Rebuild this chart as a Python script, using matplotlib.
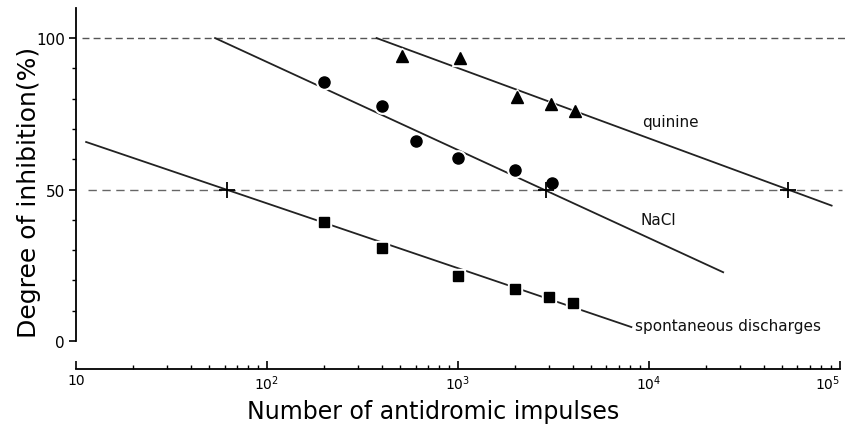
import numpy as np
import matplotlib
matplotlib.use("Agg")
import matplotlib.pyplot as plt

# ---- data ----
spont_x = [200, 400, 1000, 2000, 3000, 4000]
spont_y = [39.4, 30.6, 21.6, 17.2, 14.4, 12.4]
nacl_x = [200, 400, 600, 1000, 2000, 3100]
nacl_y = [85.6, 77.5, 65.9, 60.4, 56.3, 52.1]
quin_x = [510, 1020, 2040, 3090, 4080]
quin_y = [94.2, 93.4, 80.6, 78.2, 76.0]

# fitted regression lines (endpoints)
spont_line_x = [11.3, 8100]
spont_line_y = [65.7, 4.6]
nacl_line_x = [53.5, 24500]
nacl_line_y = [100, 22.7]
quin_line_x = [375, 90600]
quin_line_y = [100, 44.7]

# 50 % crossing points
cross_x = [61.5, 2900, 53600]
cross_y = [50, 50, 50]

ref_levels = [100, 50]
xtick_vals = [10, 100, 1000, 10000, 100000]
xtick_labels = ["10", "10$^2$", "10$^3$", "10$^4$", "10$^5$"]
ytick_vals = [0, 50, 100]

fig = plt.figure(figsize=(8.5, 4.35), dpi=100)
ax = fig.add_axes([0.0894, 0.2138, 0.8986, 0.766])
ax.set_xscale("log")
ax.set_xlim(10, 1e5)
ax.set_ylim(0, 110)

# reference dashed lines
ax.plot([10.8, 1.06e5], [ref_levels[0]] * 2, ls=(0, (5, 3)), color="#555555",
        lw=1.0, clip_on=False, zorder=1)
ax.plot([11.5, 1.03e5], [ref_levels[1]] * 2, ls=(0, (6, 4)), color="#666666",
        lw=1.0, clip_on=False, zorder=1)

lc = "#222222"
for lx, ly in [(spont_line_x, spont_line_y), (nacl_line_x, nacl_line_y),
               (quin_line_x, quin_line_y)]:
    ax.plot(lx, ly, color=lc, lw=1.3, zorder=2, clip_on=False)

# markers with white halo
for xs, ys, m, s in [(spont_x, spont_y, "s", 7), (nacl_x, nacl_y, "o", 8),
                     (quin_x, quin_y, "^", 8.5)]:
    ax.plot(xs, ys, ls="none", marker=m, ms=s + 3, color="white",
            mec="white", zorder=3)
    ax.plot(xs, ys, ls="none", marker=m, ms=s, color="black",
            mec="black", zorder=4)

ax.plot(cross_x, cross_y, ls="none", marker="+", ms=11, mew=1.3,
        color="black", zorder=5)

# curve labels
tfont = dict(fontsize=11, color="#111111", va="center", ha="left")
ax.text(9170, 72.3, "quinine", **tfont)
ax.text(9000, 40.0, "NaCl", **tfont)
ax.text(8450, 5.0, "spontaneous discharges", **tfont)

# spines
for s in ["top", "right"]:
    ax.spines[s].set_visible(False)
ax.spines["bottom"].set_position(("outward", 20))
ax.spines["left"].set_linewidth(1.3)
ax.spines["bottom"].set_linewidth(1.3)
ax.spines["left"].set_bounds(0, 110)

ax.set_yticks(ytick_vals)
ax.set_yticks(np.arange(0, 110, 10), minor=True)
ax.set_yticklabels([str(v) for v in ytick_vals])
ax.tick_params(axis="y", which="major", direction="out", length=5, width=1.2,
               labelsize=11, pad=3)
ax.tick_params(axis="y", which="minor", direction="out", length=3, width=1.0)

ax.set_xticks(xtick_vals)
ax.set_xticklabels(xtick_labels)
ax.tick_params(axis="x", which="major", direction="in", length=6, width=1.2,
               labelsize=10, pad=3)
ax.tick_params(axis="x", which="minor", direction="in", length=3, width=1.0)
ax.xaxis.set_minor_formatter(matplotlib.ticker.NullFormatter())
ax.get_xticklabels()[-1].set_horizontalalignment("right")

ax.set_xlabel("Number of antidromic impulses", fontsize=17)
ax.xaxis.set_label_coords(0.467, -0.175)
ax.set_ylabel("Degree of inhibition(%)", fontsize=18)
ax.yaxis.set_label_coords(-0.046, 0.45)

fig.savefig("out.png", dpi=100)
